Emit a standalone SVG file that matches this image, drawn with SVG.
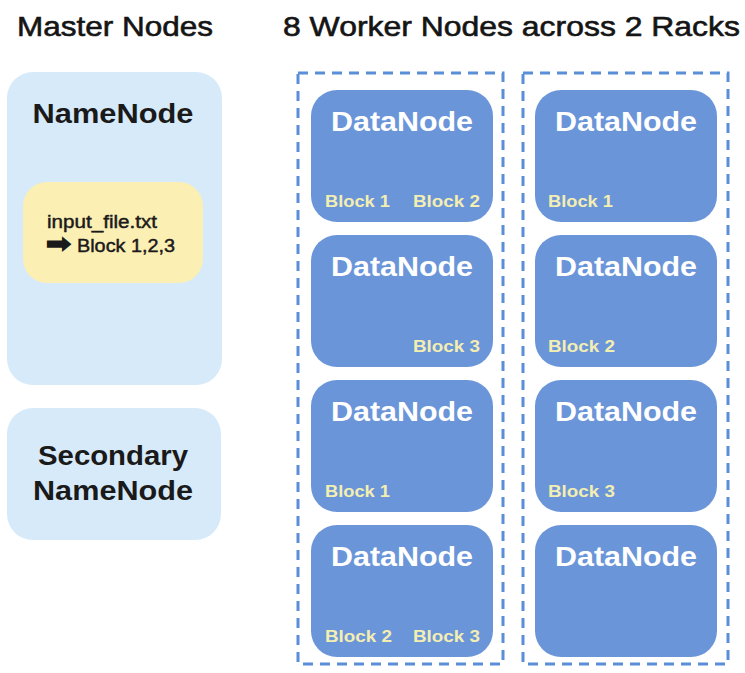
<svg xmlns="http://www.w3.org/2000/svg" width="745" height="673" viewBox="0 0 745 673">
<style>
.title{font-family:"Liberation Sans",Arial,sans-serif;font-size:28px;fill:#151515;stroke:#151515;stroke-width:0.6}
.master{fill:#d7eafa}
.file{fill:#fcefb4}
.mlabel{font-family:"Liberation Sans",Arial,sans-serif;font-size:28px;font-weight:bold;fill:#1a1a1a;text-anchor:middle}
.ftext{font-family:"Liberation Sans",Arial,sans-serif;font-size:18px;fill:#1a1a1a;stroke:#1a1a1a;stroke-width:0.45}
.rack{fill:none;stroke:#5b8ed8;stroke-width:3;stroke-dasharray:10 7}
.dn{fill:#6b95d9}
.dlabel{font-family:"Liberation Sans",Arial,sans-serif;font-size:28px;font-weight:bold;fill:#ffffff;text-anchor:middle}
.blk{font-family:"Liberation Sans",Arial,sans-serif;font-size:17px;font-weight:bold;fill:#f3eeb2}
</style>
<rect width="745" height="673" fill="#ffffff"/>
<text class="title" x="17" y="36" textLength="196" lengthAdjust="spacingAndGlyphs">Master Nodes</text>
<text class="title" x="283" y="36" textLength="457" lengthAdjust="spacingAndGlyphs">8 Worker Nodes across 2 Racks</text>

<g id="namenode">
<rect class="master" x="7" y="72" width="215" height="313" rx="26"/>
<text class="mlabel" x="113" y="123" textLength="161" lengthAdjust="spacingAndGlyphs">NameNode</text>
</g>
<g id="file-metadata">
<rect class="file" x="23" y="182" width="180" height="101" rx="24"/>
<text class="ftext" x="47" y="228" textLength="110" lengthAdjust="spacingAndGlyphs">input_file.txt</text>
<text class="ftext" y="252"><tspan x="46" font-family="DejaVu Sans,sans-serif" font-size="25" stroke-width="1.4" textLength="25" lengthAdjust="spacingAndGlyphs">➡</tspan><tspan x="77" textLength="98" lengthAdjust="spacingAndGlyphs">Block 1,2,3</tspan></text>
</g>
<g id="secondary-namenode">
<rect class="master" x="7" y="408" width="214" height="132" rx="26"/>
<text class="mlabel" x="113" y="465" textLength="150" lengthAdjust="spacingAndGlyphs">Secondary</text>
<text class="mlabel" x="113" y="500" textLength="160" lengthAdjust="spacingAndGlyphs">NameNode</text>
</g>

<g id="rack1">
<rect class="rack" x="298" y="73" width="205" height="591"/>
</g>
<g id="rack2">
<rect class="rack" x="523" y="73" width="205" height="591"/>
</g>

<g id="dn1">
<rect class="dn" x="311" y="90" width="182" height="132" rx="26"/>
<text class="dlabel" x="402" y="131" textLength="142" lengthAdjust="spacingAndGlyphs">DataNode</text>
<text class="blk" x="325" y="207" textLength="65" lengthAdjust="spacingAndGlyphs">Block 1</text>
<text class="blk" x="413" y="207" textLength="67" lengthAdjust="spacingAndGlyphs">Block 2</text>
</g>
<g id="dn2">
<rect class="dn" x="311" y="235" width="182" height="132" rx="26"/>
<text class="dlabel" x="402" y="276" textLength="142" lengthAdjust="spacingAndGlyphs">DataNode</text>
<text class="blk" x="413" y="352" textLength="67" lengthAdjust="spacingAndGlyphs">Block 3</text>
</g>
<g id="dn3">
<rect class="dn" x="311" y="380" width="182" height="132" rx="26"/>
<text class="dlabel" x="402" y="421" textLength="142" lengthAdjust="spacingAndGlyphs">DataNode</text>
<text class="blk" x="325" y="497" textLength="65" lengthAdjust="spacingAndGlyphs">Block 1</text>
</g>
<g id="dn4">
<rect class="dn" x="311" y="525" width="182" height="132" rx="26"/>
<text class="dlabel" x="402" y="566" textLength="142" lengthAdjust="spacingAndGlyphs">DataNode</text>
<text class="blk" x="325" y="642" textLength="67" lengthAdjust="spacingAndGlyphs">Block 2</text>
<text class="blk" x="413" y="642" textLength="67" lengthAdjust="spacingAndGlyphs">Block 3</text>
</g>
<g id="dn5">
<rect class="dn" x="535" y="90" width="182" height="132" rx="26"/>
<text class="dlabel" x="626" y="131" textLength="142" lengthAdjust="spacingAndGlyphs">DataNode</text>
<text class="blk" x="548" y="207" textLength="65" lengthAdjust="spacingAndGlyphs">Block 1</text>
</g>
<g id="dn6">
<rect class="dn" x="535" y="235" width="182" height="132" rx="26"/>
<text class="dlabel" x="626" y="276" textLength="142" lengthAdjust="spacingAndGlyphs">DataNode</text>
<text class="blk" x="548" y="352" textLength="67" lengthAdjust="spacingAndGlyphs">Block 2</text>
</g>
<g id="dn7">
<rect class="dn" x="535" y="380" width="182" height="132" rx="26"/>
<text class="dlabel" x="626" y="421" textLength="142" lengthAdjust="spacingAndGlyphs">DataNode</text>
<text class="blk" x="548" y="497" textLength="67" lengthAdjust="spacingAndGlyphs">Block 3</text>
</g>
<g id="dn8">
<rect class="dn" x="535" y="525" width="182" height="132" rx="26"/>
<text class="dlabel" x="626" y="566" textLength="142" lengthAdjust="spacingAndGlyphs">DataNode</text>
</g>
<g id="connectors"></g>
</svg>
